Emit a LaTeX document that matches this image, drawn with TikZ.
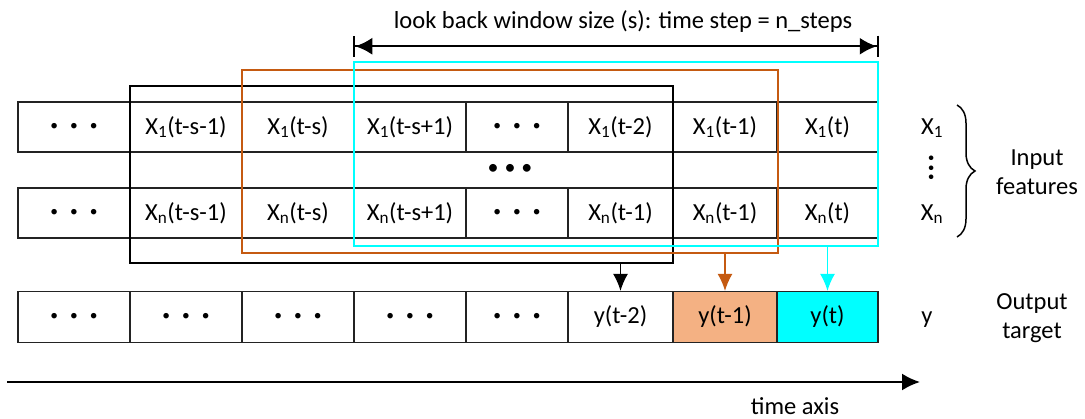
\documentclass[tikz,border=0pt]{standalone}
\usepackage{fontspec}
\setmainfont{Carlito}
\usetikzlibrary{arrows.meta,decorations.pathreplacing}
\definecolor{borange}{RGB}{197,90,17}
\definecolor{forange}{RGB}{244,177,131}
\definecolor{bcyan}{RGB}{0,255,255}
\definecolor{cellline}{RGB}{35,35,35}
\newcommand{\txtfont}{\fontsize{24.5}{29}\selectfont}
\newcommand{\celldots}{{\fontsize{15.5}{15}\selectfont\textbullet\hspace{12pt}\textbullet\hspace{12pt}\textbullet}}
\begin{document}
\begin{tikzpicture}[x=1pt,y=-1pt,
  cell/.style={draw=cellline, line width=1.3pt, inner sep=0pt, minimum height=50pt, font=\txtfont},
  ocell/.style={cell, minimum height=51pt},
  label/.style={inner sep=0pt, font=\txtfont, align=center},
  win/.style={draw, line width=1.5pt, inner sep=0pt},
  downarrow/.style={line width=1.4pt, -{Latex[length=17pt,width=15pt]}}
]
\useasboundingbox (0,0) rectangle (1085,419);

% row X1
\node[cell, minimum width=112pt] (a1) at (74,127) {\celldots};
\node[cell, minimum width=112pt] (a2) at (186,127) {X\textsubscript{1}(t-s-1)};
\node[cell, minimum width=112pt] (a3) at (298,127) {X\textsubscript{1}(t-s)};
\node[cell, minimum width=112pt] (a4) at (410,127) {X\textsubscript{1}(t-s+1)};
\node[cell, minimum width=102pt] (a5) at (517,127) {\celldots};
\node[cell, minimum width=105pt] (a6) at (620.5,127) {X\textsubscript{1}(t-2)};
\node[cell, minimum width=104pt] (a7) at (725,127) {X\textsubscript{1}(t-1)};
\node[cell, minimum width=101pt] (a8) at (827.5,127) {X\textsubscript{1}(t)};

% row Xn
\node[cell, minimum width=112pt] (b1) at (74,213) {\celldots};
\node[cell, minimum width=112pt] (b2) at (186,213) {X\textsubscript{n}(t-s-1)};
\node[cell, minimum width=112pt] (b3) at (298,213) {X\textsubscript{n}(t-s)};
\node[cell, minimum width=112pt] (b4) at (410,213) {X\textsubscript{n}(t-s+1)};
\node[cell, minimum width=102pt] (b5) at (517,213) {\celldots};
\node[cell, minimum width=105pt] (b6) at (620.5,213) {X\textsubscript{n}(t-1)};
\node[cell, minimum width=104pt] (b7) at (725,213) {X\textsubscript{n}(t-1)};
\node[cell, minimum width=101pt] (b8) at (827.5,213) {X\textsubscript{n}(t)};

% output row
\node[ocell, minimum width=112pt] (o1) at (74,317) {\celldots};
\node[ocell, minimum width=112pt] (o2) at (186,317) {\celldots};
\node[ocell, minimum width=112pt] (o3) at (298,317) {\celldots};
\node[ocell, minimum width=112pt] (o4) at (410,317) {\celldots};
\node[ocell, minimum width=102pt] (o5) at (517,317) {\celldots};
\node[ocell, minimum width=105pt] (o6) at (620.5,317) {y(t-2)};
\node[ocell, minimum width=104pt, fill=forange] (o7) at (725,317) {y(t-1)};
\node[ocell, minimum width=101pt, fill=bcyan] (o8) at (827.5,317) {y(t)};

% dots between rows
\node[inner sep=0pt] (mdots) at (510,169) {{\fontsize{22}{22}\selectfont\textbullet\hspace{6pt}\textbullet\hspace{6pt}\textbullet}};

% windows
\node[win, draw=black, minimum width=543pt, minimum height=177pt] (bw) at (401.5,174.5) {};
\node[win, draw=borange, minimum width=536pt, minimum height=183pt] (ow) at (510,161.5) {};
\node[win, draw=bcyan, minimum width=524pt, minimum height=184pt] (cw) at (616,154) {};

% arrows to outputs
\draw[downarrow, draw=black, fill=black] (o6.north |- bw.south) -- (o6.north);
\draw[downarrow, draw=borange, fill=borange] (o7.north |- ow.south) -- (o7.north);
\draw[downarrow, draw=bcyan, fill=bcyan] (o8.north |- cw.south) -- (o8.north);

% look back window arrow
\coordinate (wl) at ([yshift=15pt]cw.north west);
\coordinate (wr) at ([yshift=15pt]cw.north east);
\draw[line width=2pt, {Bar[width=21pt]Latex[length=17pt,width=17pt]}-{Latex[length=17pt,width=17pt]Bar[width=21pt]}] (wl) -- (wr);
\node[label] (title) at (623,22) {look back window size (s): time step = n\_steps};

% right labels
\node[label, anchor=base] (lx1) at ([xshift=104.5pt]a8.base) {X\textsubscript{1}};
\node[inner sep=0pt, rotate=90, font=\fontsize{13}{13}\selectfont] (vd) at (932,168) {\textbullet\hspace{3pt}\textbullet\hspace{3pt}\textbullet};
\node[label, anchor=base] (lxn) at ([xshift=104.5pt]b8.base) {X\textsubscript{n}};
\coordinate (bt) at (957,105);
\coordinate (bb) at (957,237);
\draw[line width=1.5pt, decorate, decoration={brace, amplitude=18pt, aspect=0.5}] (bt) -- (bb);
\node[label] (inf) at (1037,172) {Input\\features};
\node[label, anchor=base] (ly) at ([xshift=306.5pt]o6.base) {y};
\node[label] (outt) at (1032,318) {Output\\target};

% time axis
\coordinate (t0) at (7,382);
\coordinate (t1) at (920,382);
\draw[line width=2pt, -{Latex[length=18pt,width=17pt]}] (t0) -- (t1);
\node[label] (tax) at (795,406) {time axis};
\end{tikzpicture}
\end{document}
